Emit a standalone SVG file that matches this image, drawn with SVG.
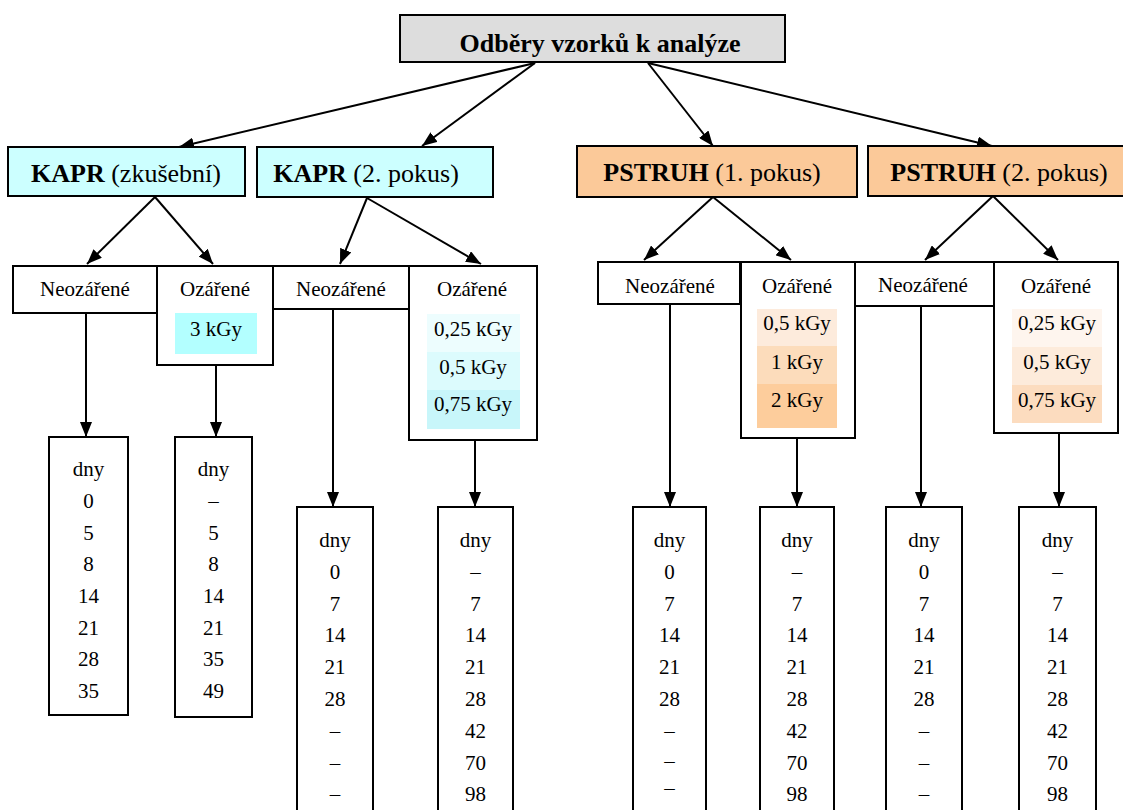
<svg xmlns="http://www.w3.org/2000/svg" width="1123" height="810" viewBox="0 0 1123 810">
<defs>
<style>
.bx{stroke:#000;stroke-width:2}
.t{font-family:"Liberation Serif","Times New Roman",serif;font-size:21px;text-anchor:middle;fill:#000}
.h{font-size:26px}
.b{font-weight:bold}
.c{stroke:#000;stroke-width:2;fill:none;marker-end:url(#ah)}
.cy{fill:#ccffff}
.pe{fill:#fbc999}
</style>
<marker id="ah" viewBox="0 0 15 12" refX="15" refY="6" markerWidth="15" markerHeight="12" markerUnits="userSpaceOnUse" orient="auto">
<path d="M0,0 L15,6 L0,12 z" fill="#000"/>
</marker>
</defs>
<rect width="1123" height="810" fill="#fff"/>

<g id="connectors">
<line class="c" x1="535" y1="63" x2="179" y2="147"/>
<line class="c" x1="535" y1="63" x2="422" y2="146"/>
<line class="c" x1="648" y1="63" x2="713" y2="146"/>
<line class="c" x1="648" y1="63" x2="992" y2="146"/>
<line class="c" x1="155" y1="197" x2="87" y2="264"/>
<line class="c" x1="155" y1="197" x2="213" y2="264"/>
<line class="c" x1="367" y1="198" x2="340" y2="264"/>
<line class="c" x1="367" y1="198" x2="481" y2="264"/>
<line class="c" x1="713" y1="197" x2="644" y2="260"/>
<line class="c" x1="713" y1="197" x2="791" y2="260"/>
<line class="c" x1="993" y1="196" x2="925" y2="260"/>
<line class="c" x1="993" y1="196" x2="1058" y2="260"/>
<line class="c" x1="86" y1="313" x2="86" y2="437"/>
<line class="c" x1="216" y1="365" x2="216" y2="437"/>
<line class="c" x1="333" y1="309" x2="333" y2="507"/>
<line class="c" x1="475" y1="440" x2="475" y2="507"/>
<line class="c" x1="670" y1="304" x2="670" y2="507"/>
<line class="c" x1="797" y1="438" x2="797" y2="507"/>
<line class="c" x1="921" y1="306" x2="921" y2="507"/>
<line class="c" x1="1059" y1="433" x2="1059" y2="507"/>
</g>

<g id="root">
<rect class="bx" x="400" y="15" width="385" height="47" fill="#dddddd"/>
<text class="t h b" x="600" y="52">Odběry vzorků k analýze</text>
</g>

<g id="kapr1">
<rect class="bx cy" x="8" y="147" width="237" height="49"/>
<text class="t h" x="126" y="182"><tspan class="b">KAPR</tspan> (zkušební)</text>
</g>
<g id="kapr2">
<rect class="bx cy" x="257" y="147" width="236" height="50"/>
<text class="t h" x="366" y="182"><tspan class="b">KAPR</tspan> (2. pokus)</text>
</g>
<g id="pstruh1">
<rect class="bx pe" x="577" y="146" width="280" height="51"/>
<text class="t h" x="712" y="181"><tspan class="b">PSTRUH</tspan>  (1. pokus)</text>
</g>
<g id="pstruh2">
<rect class="bx pe" x="868" y="146" width="262" height="50"/>
<text class="t h" x="999" y="181"><tspan class="b">PSTRUH</tspan> (2. pokus)</text>
</g>

<g id="k1-neo">
<rect class="bx" x="13" y="266" width="144" height="47" fill="#fff"/>
<text class="t" x="85" y="296">Neozářené</text>
</g>
<g id="k1-oz">
<rect class="bx" x="157" y="266" width="116" height="99" fill="#fff"/>
<text class="t" x="215" y="296">Ozářené</text>
<rect x="175" y="313" width="82" height="41" fill="#b3ffff"/>
<text class="t" x="216" y="336">3 kGy</text>
</g>
<g id="k2-neo">
<rect class="bx" x="273" y="266" width="136" height="43" fill="#fff"/>
<text class="t" x="341" y="296">Neozářené</text>
</g>
<g id="k2-oz">
<rect class="bx" x="409" y="266" width="128" height="174" fill="#fff"/>
<text class="t" x="472" y="296">Ozářené</text>
<rect x="427" y="314" width="93" height="38" fill="#edfdfe"/>
<rect x="427" y="352" width="93" height="38" fill="#dcfbfd"/>
<rect x="427" y="390" width="93" height="39" fill="#c8f6fa"/>
<text class="t" x="473" y="336">0,25 kGy</text>
<text class="t" x="473" y="374">0,5 kGy</text>
<text class="t" x="473" y="411">0,75 kGy</text>
</g>
<g id="p1-neo">
<rect class="bx" x="598" y="262" width="142" height="42" fill="#fff"/>
<text class="t" x="670" y="293">Neozářené</text>
</g>
<g id="p1-oz">
<rect class="bx" x="741" y="262" width="114" height="176" fill="#fff"/>
<text class="t" x="797" y="293">Ozářené</text>
<rect x="757" y="309" width="80" height="37" fill="#fdebdc"/>
<rect x="757" y="346" width="80" height="38" fill="#fcdcbb"/>
<rect x="757" y="384" width="80" height="44" fill="#fdcd9c"/>
<text class="t" x="797" y="330">0,5 kGy</text>
<text class="t" x="797" y="369">1 kGy</text>
<text class="t" x="797" y="407">2 kGy</text>
</g>
<g id="p2-neo">
<rect class="bx" x="855" y="262" width="139" height="44" fill="#fff"/>
<text class="t" x="923" y="292">Neozářené</text>
</g>
<g id="p2-oz">
<rect class="bx" x="994" y="262" width="124" height="171" fill="#fff"/>
<text class="t" x="1056" y="293">Ozářené</text>
<rect x="1012" y="309" width="90" height="38" fill="#fef5ee"/>
<rect x="1012" y="347" width="90" height="38" fill="#fdebdb"/>
<rect x="1012" y="385" width="90" height="38" fill="#fcdcbf"/>
<text class="t" x="1057" y="330">0,25 kGy</text>
<text class="t" x="1057" y="369">0,5 kGy</text>
<text class="t" x="1057" y="407">0,75 kGy</text>
</g>

<g id="d1">
<rect class="bx" x="49" y="437" width="79" height="278" fill="#fff"/>
<text class="t" x="88.5" y="476">dny</text>
<text class="t" x="88.5" y="508">0</text>
<text class="t" x="88.5" y="540">5</text>
<text class="t" x="88.5" y="571">8</text>
<text class="t" x="88.5" y="603">14</text>
<text class="t" x="88.5" y="635">21</text>
<text class="t" x="88.5" y="666">28</text>
<text class="t" x="88.5" y="698">35</text>
</g>
<g id="d2">
<rect class="bx" x="175" y="437" width="77" height="280" fill="#fff"/>
<text class="t" x="213.5" y="476">dny</text>
<text class="t" x="213.5" y="508">–</text>
<text class="t" x="213.5" y="540">5</text>
<text class="t" x="213.5" y="571">8</text>
<text class="t" x="213.5" y="603">14</text>
<text class="t" x="213.5" y="635">21</text>
<text class="t" x="213.5" y="666">35</text>
<text class="t" x="213.5" y="698">49</text>
</g>
<g id="d3">
<rect class="bx" x="297" y="507" width="76" height="320" fill="#fff"/>
<text class="t" x="335" y="547">dny</text>
<text class="t" x="335" y="579">0</text>
<text class="t" x="335" y="611">7</text>
<text class="t" x="335" y="642">14</text>
<text class="t" x="335" y="674">21</text>
<text class="t" x="335" y="706">28</text>
<text class="t" x="335" y="738">–</text>
<text class="t" x="335" y="770">–</text>
<text class="t" x="335" y="801">–</text>
</g>
<g id="d4">
<rect class="bx" x="438" y="507" width="75" height="320" fill="#fff"/>
<text class="t" x="475.5" y="547">dny</text>
<text class="t" x="475.5" y="579">–</text>
<text class="t" x="475.5" y="611">7</text>
<text class="t" x="475.5" y="642">14</text>
<text class="t" x="475.5" y="674">21</text>
<text class="t" x="475.5" y="706">28</text>
<text class="t" x="475.5" y="738">42</text>
<text class="t" x="475.5" y="770">70</text>
<text class="t" x="475.5" y="801">98</text>
</g>
<g id="d5">
<rect class="bx" x="633" y="507" width="73" height="320" fill="#fff"/>
<text class="t" x="669.5" y="547">dny</text>
<text class="t" x="669.5" y="579">0</text>
<text class="t" x="669.5" y="611">7</text>
<text class="t" x="669.5" y="642">14</text>
<text class="t" x="669.5" y="674">21</text>
<text class="t" x="669.5" y="706">28</text>
<text class="t" x="669.5" y="738">–</text>
<text class="t" x="669.5" y="768">–</text>
<text class="t" x="669.5" y="795">–</text>
</g>
<g id="d6">
<rect class="bx" x="760" y="507" width="74" height="320" fill="#fff"/>
<text class="t" x="797" y="547">dny</text>
<text class="t" x="797" y="579">–</text>
<text class="t" x="797" y="611">7</text>
<text class="t" x="797" y="642">14</text>
<text class="t" x="797" y="674">21</text>
<text class="t" x="797" y="706">28</text>
<text class="t" x="797" y="738">42</text>
<text class="t" x="797" y="770">70</text>
<text class="t" x="797" y="801">98</text>
</g>
<g id="d7">
<rect class="bx" x="886" y="507" width="76" height="320" fill="#fff"/>
<text class="t" x="924" y="547">dny</text>
<text class="t" x="924" y="579">0</text>
<text class="t" x="924" y="611">7</text>
<text class="t" x="924" y="642">14</text>
<text class="t" x="924" y="674">21</text>
<text class="t" x="924" y="706">28</text>
<text class="t" x="924" y="738">–</text>
<text class="t" x="924" y="770">–</text>
<text class="t" x="924" y="801">–</text>
</g>
<g id="d8">
<rect class="bx" x="1019" y="507" width="77" height="320" fill="#fff"/>
<text class="t" x="1057.5" y="547">dny</text>
<text class="t" x="1057.5" y="579">–</text>
<text class="t" x="1057.5" y="611">7</text>
<text class="t" x="1057.5" y="642">14</text>
<text class="t" x="1057.5" y="674">21</text>
<text class="t" x="1057.5" y="706">28</text>
<text class="t" x="1057.5" y="738">42</text>
<text class="t" x="1057.5" y="770">70</text>
<text class="t" x="1057.5" y="801">98</text>
</g>
</svg>
